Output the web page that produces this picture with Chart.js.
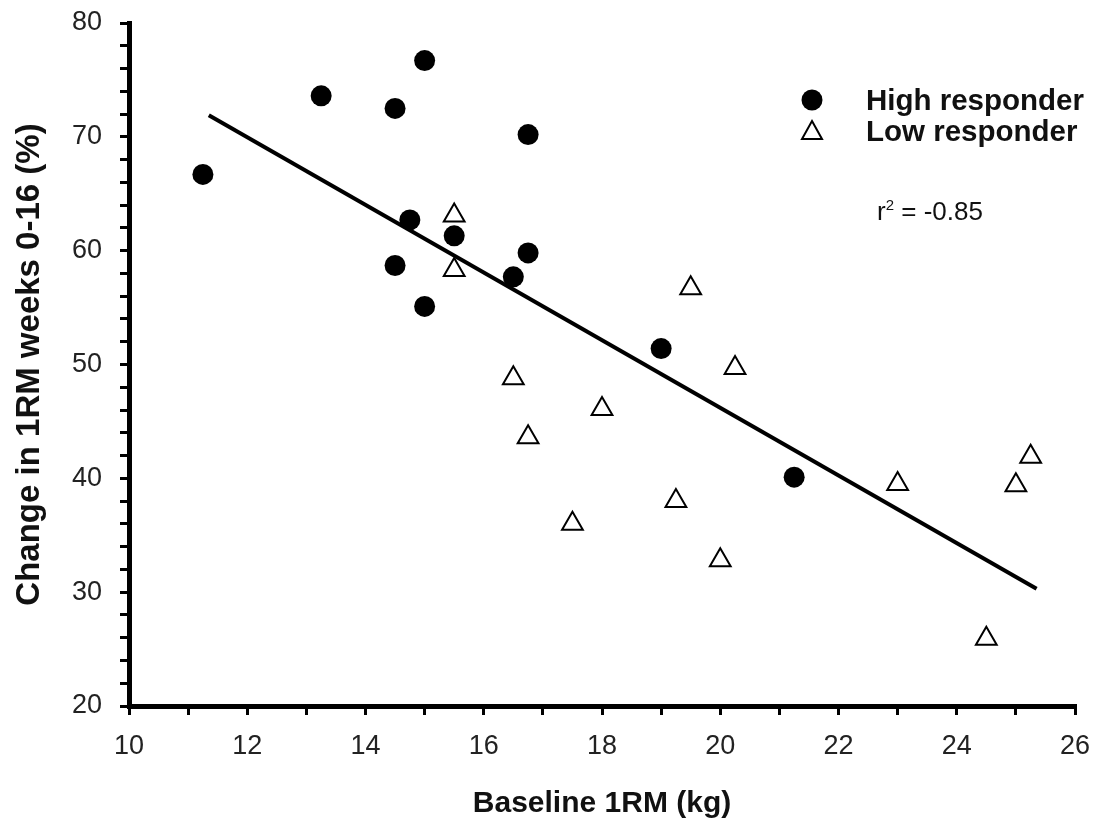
<!DOCTYPE html>
<html>
<head>
<meta charset="utf-8">
<script src="https://cdn.jsdelivr.net/npm/chart.js@4.4.0/dist/chart.umd.min.js"></script>
<style>
  body { margin: 0; background: #fff; font-family: 'Liberation Sans', Arial, sans-serif; }
  .wrap { position: relative; width: 1102px; height: 826px; }
  .note { position: absolute; color: #111; white-space: nowrap; line-height: 1; }
  .lg { font-weight: bold; font-size: 29.5px; }
</style>
</head>
<body>
<div class="wrap">
  <canvas id="scatterChart" width="1102" height="826"></canvas>
  <div class="note lg" style="left:866px; top:85px;">High responder</div>
  <div class="note lg" style="left:866px; top:116px;">Low responder</div>
  <div class="note" style="left:877px; top:197px; font-size:26px;">r<sup style="font-size:15px;">2</sup> = -0.85</div>
</div>
<script>
const highX = [11.25, 13.25, 14.5, 15.0, 16.75, 14.75, 15.5, 14.5, 15.0, 16.75, 16.5, 19.0, 21.25];
const highY = [66.7, 73.6, 72.5, 76.7, 70.2, 62.7, 61.3, 58.7, 55.1, 59.8, 57.7, 51.4, 40.1];

const lowX = [15.5, 15.5, 16.5, 16.75, 17.5, 18.0, 19.5, 19.25, 20.0, 20.25, 23.0, 24.5, 25.0, 25.25];
const lowY = [63.1, 58.3, 48.8, 43.6, 36.0, 46.1, 56.7, 38.0, 32.8, 49.7, 39.5, 25.9, 39.4, 41.9];

const fitX = [11.35, 25.35];
const fitY = [71.9, 30.3];

const toPoints = (xs, ys) => xs.map((x, i) => ({ x: x, y: ys[i] }));

const tickFont = { family: 'Liberation Sans, Arial, sans-serif', size: 27 };

// legend symbols next to the html labels
const legendMarks = {
  id: 'legendMarks',
  afterDraw(chart) {
    const c = chart.ctx;
    c.save();
    c.fillStyle = '#000';
    c.beginPath();
    c.arc(812, 100, 10.5, 0, Math.PI * 2);
    c.fill();
    c.strokeStyle = '#000';
    c.lineWidth = 2;
    c.beginPath();
    c.moveTo(812, 121);
    c.lineTo(822, 139);
    c.lineTo(802, 139);
    c.closePath();
    c.stroke();
    c.restore();
  }
};

// keep the plot box where the reference has it
const noOverhang = s => { s.paddingTop = 0; s.paddingBottom = 0; s.paddingLeft = 0; s.paddingRight = 0; };

new Chart(document.getElementById('scatterChart'), {
  type: 'scatter',
  data: {
    datasets: [
      {
        label: 'fit',
        data: toPoints(fitX, fitY),
        showLine: true,
        borderColor: '#000',
        borderWidth: 4,
        pointRadius: 0,
        order: 3
      },
      {
        label: 'Low responder',
        data: toPoints(lowX, lowY),
        pointStyle: 'triangle',
        pointRadius: 12,
        backgroundColor: '#fff',
        borderColor: '#000',
        borderWidth: 2,
        order: 2
      },
      {
        label: 'High responder',
        data: toPoints(highX, highY),
        pointStyle: 'circle',
        pointRadius: 10.5,
        backgroundColor: '#000',
        borderColor: '#000',
        borderWidth: 0,
        order: 1
      }
    ]
  },
  options: {
    responsive: false,
    animation: false,
    layout: { padding: { top: 23, right: 27, left: 0, bottom: 0 } },
    plugins: { legend: { display: false }, tooltip: { enabled: false } },
    scales: {
      x: {
        min: 10, max: 26,
        afterFit: s => { s.height = 120; noOverhang(s); },
        border: { color: '#000', width: 5 },
        grid: { drawOnChartArea: false, drawTicks: true, tickLength: 9, color: '#000', lineWidth: 3 },
        ticks: {
          stepSize: 1, autoSkip: false, maxRotation: 0, color: '#222', font: tickFont, padding: 15,
          callback: v => (v % 2 === 0 ? v : '')
        },
        title: {
          display: true, text: 'Baseline 1RM (kg)', color: '#111',
          font: { family: 'Liberation Sans, Arial, sans-serif', size: 30, weight: 'bold' },
          padding: { top: 4, bottom: 4 }
        }
      },
      y: {
        min: 20, max: 80,
        afterFit: s => { s.width = 129; noOverhang(s); },
        border: { color: '#000', width: 5 },
        grid: { drawOnChartArea: false, drawTicks: true, tickLength: 9, color: '#000', lineWidth: 3 },
        ticks: {
          stepSize: 2, autoSkip: false, color: '#222', font: tickFont, padding: 18,
          callback: v => (v % 10 === 0 ? v : '')
        },
        title: {
          display: true, text: 'Change in 1RM weeks 0-16 (%)', color: '#111',
          font: { family: 'Liberation Sans, Arial, sans-serif', size: 33, weight: 'bold' },
          padding: { top: 10, bottom: 0 }
        }
      }
    }
  },
  plugins: [legendMarks]
});
</script>
</body>
</html>
